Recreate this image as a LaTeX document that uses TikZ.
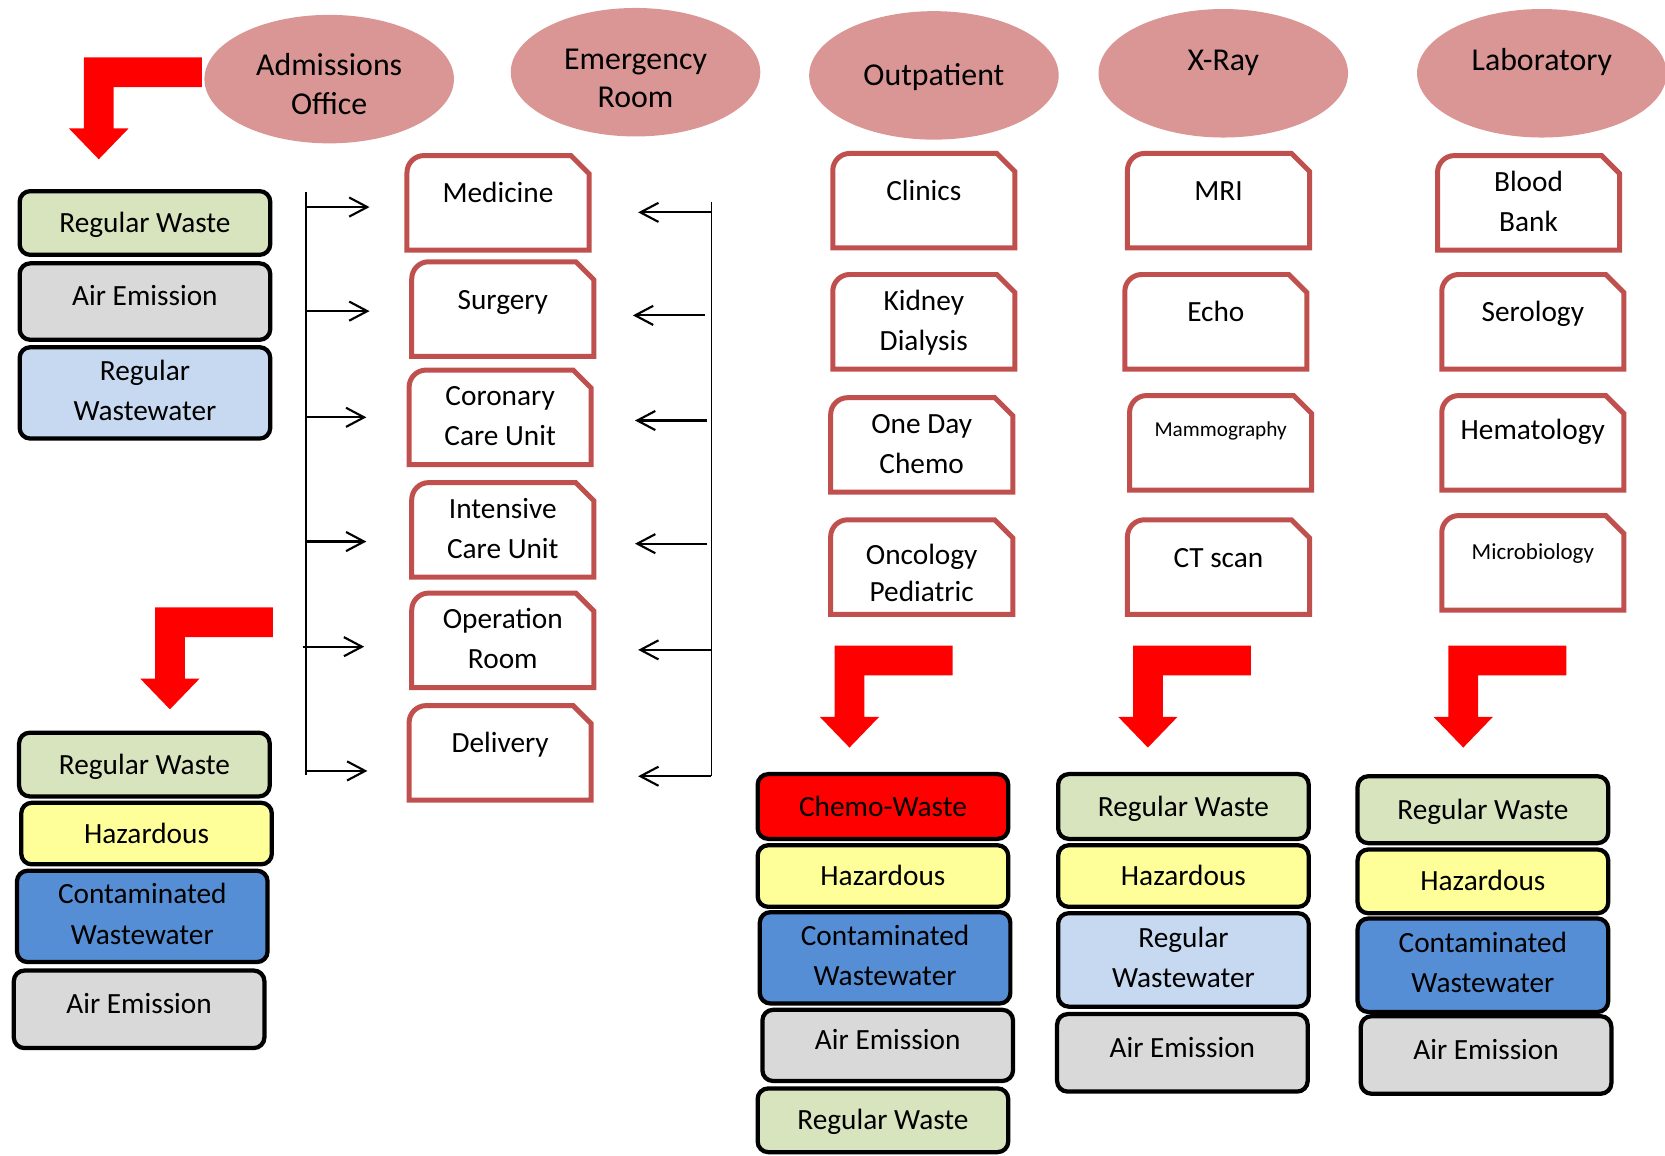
\documentclass[tikz,border=0pt]{standalone}
\usepackage{fontspec}
\setmainfont{Carlito}
\usepackage{tikz}
\usetikzlibrary{arrows.meta, positioning, shapes.geometric}
\definecolor{deptpink}{HTML}{D99694}
\definecolor{unitred}{HTML}{C0504D}
\definecolor{wastegreen}{HTML}{D7E4BD}
\definecolor{wastegray}{HTML}{D9D9D9}
\definecolor{wastelblue}{HTML}{C6D9F1}
\definecolor{wasteyellow}{HTML}{FFFF99}
\definecolor{wasteblue}{HTML}{558ED5}
\definecolor{chemored}{HTML}{FF0000}
\tikzset{
  dept/.style={ellipse, fill=deptpink, inner sep=0pt, minimum width=117.5pt,
    minimum height=60.5pt, align=center, font=\fontsize{15}{18}\selectfont},
  twodept/.style={text height=33pt, text depth=0pt},
  highdept/.style={text height=10pt, text depth=12.3pt},
  unit/.style={rectangle, inner sep=0pt, outer sep=0pt, minimum width=85.75pt,
    minimum height=44.5pt, align=center, font=\fontsize{13.8}{19}\selectfont},
  oneline/.style={text height=9pt, text depth=9pt},
  twoline/.style={text height=28pt, text depth=1pt},
  unitframe/.style={draw=unitred, line width=2.35pt},
  waste/.style={rectangle, draw=black, line width=2pt, rounded corners=5pt,
    minimum width=118pt, align=center, font=\fontsize{13.8}{19}\selectfont,
    text height=9.5pt, text depth=0.5pt},
  regwaste/.style={waste, fill=wastegreen, minimum height=30pt},
  hazwaste/.style={waste, fill=wasteyellow, minimum height=29pt},
  chemowaste/.style={waste, fill=chemored, minimum height=30.5pt},
  airwaste/.style={waste, fill=wastegray, minimum height=36.5pt, text height=9pt, text depth=5pt},
  cleanwater/.style={waste, fill=wastelblue, minimum height=43pt, text height=28pt, text depth=2pt},
  dirtywater/.style={waste, fill=wasteblue, minimum height=43pt, text height=28pt, text depth=2pt},
  arrowline/.style={-{Straight Barb[length=8.5pt, width=9pt]}, line width=1pt},
  feedline/.style={line width=0.75pt},
  bentarrow/.pic={
    \fill[chemored] (0,0) -- (111,0) -- (111,28) -- (28,28) -- (28,67) -- (42,67)
      -- (14,96) -- (-14,67) -- (0,67) -- cycle;
  },
}

\begin{document}
\begin{tikzpicture}[x=0.5pt, y=-0.5pt]
  \useasboundingbox (0,0) rectangle (1568,1088);

  \node[dept, twodept] (admissions) at (310,74.5) {Admissions\\Office};
  \node[dept, twodept] (emergency) at (598.5,68) {Emergency\\Room};
  \node[dept, text height=10pt, text depth=0.3pt] (outpatient) at (879.5,71) {Outpatient};
  \node[dept, highdept] (xray) at (1152,69) {X-Ray};
  \node[dept, highdept] (laboratory) at (1452,69) {Laboratory};

  \node[unit, oneline] (medicine) at (469,191) {Medicine};
  \node[unit, oneline] (surgery) at (473.5,291) {Surgery};
  \node[unit, twoline] (coronary) at (471,393) {Coronary\\Care Unit};
  \node[unit, twoline] (intensive) at (473.5,499) {Intensive\\Care Unit};
  \node[unit, twoline] (operation) at (473.5,603) {Operation\\Room};
  \node[unit, oneline] (delivery) at (471,709) {Delivery};

  \node[unit, oneline] (clinics) at (870,189) {Clinics};
  \node[unit, twoline] (dialysis) at (870,303) {Kidney\\Dialysis};
  \node[unit, twoline] (chemo) at (868,419) {One Day\\Chemo};
  \node[unit, text height=32pt, text depth=0pt, font=\fontsize{13.8}{17}\selectfont] (oncology) at (868,534) {Oncology\\Pediatric};

  \node[unit, oneline] (mri) at (1147.5,189) {MRI};
  \node[unit, oneline] (echo) at (1145,303) {Echo};
  \node[unit, text height=9pt, text depth=14.5pt, font=\fontsize{10}{12}\selectfont] (mammo) at (1149.5,417) {Mammography};
  \node[unit, oneline] (ctscan) at (1147.5,534) {CT scan};

  \node[unit, twoline] (blood) at (1439.5,191) {Blood\\Bank};
  \node[unit, oneline] (serology) at (1443.5,303) {Serology};
  \node[unit, text height=9pt, text depth=12pt] (hematology) at (1443.5,417) {Hematology};
  \node[unit, text height=9pt, text depth=12pt, font=\fontsize{10.8}{13}\selectfont] (microbio) at (1443.5,530) {Microbiology};

  \foreach \u in {medicine,surgery,coronary,intensive,operation,delivery,clinics,dialysis,chemo,oncology,mri,echo,mammo,ctscan,blood,serology,hematology,microbio}
    \draw[unitframe] (\u.west) [rounded corners=8pt] -- (\u.north west) -- (\u.north) [sharp corners]
      -- ([xshift=-8.5pt]\u.north east) -- ([yshift=-8.5pt]\u.north east) -- (\u.south east) -- (\u.south west) -- cycle;

  \node[regwaste] (rwTop) at (136.5,210) {Regular Waste};
  \node[airwaste, minimum height=36pt, below=2pt of rwTop] (airTop) {Air Emission};
  \node[cleanwater, below=1.5pt of airTop] (rwwTop) {Regular\\Wastewater};

  \node[regwaste] (rwLow) at (136,720) {Regular Waste};
  \node[hazwaste, below=1pt of rwLow, xshift=1pt] (hazLow) {Hazardous};
  \node[dirtywater, below=1pt of hazLow, xshift=-2pt] (cwwLow) {Contaminated\\Wastewater};
  \node[airwaste, below=2pt of cwwLow, xshift=-1.5pt] (airLow) {Air Emission};

  \node[chemowaste] (chemoW) at (831.5,759.5) {Chemo-Waste};
  \node[hazwaste, below=1pt of chemoW] (hazOut) {Hazardous};
  \node[dirtywater, below=0.5pt of hazOut, xshift=1pt] (cwwOut) {Contaminated\\Wastewater};
  \node[airwaste, minimum height=33.5pt, below=1pt of cwwOut, xshift=1.25pt] (airOut) {Air Emission};
  \node[regwaste, below=1.5pt of airOut, xshift=-2.25pt] (rwOut) {Regular Waste};

  \node[regwaste, minimum height=30.5pt] (rwXray) at (1114.5,759.5) {Regular Waste};
  \node[hazwaste, below=1pt of rwXray] (hazXray) {Hazardous};
  \node[cleanwater, minimum height=44pt, below=1pt of hazXray] (rwwXray) {Regular\\Wastewater};
  \node[airwaste, below=1.5pt of rwwXray, xshift=-0.5pt] (airXray) {Air Emission};

  \node[regwaste, minimum height=31.5pt] (rwLab) at (1396.5,762.5) {Regular Waste};
  \node[hazwaste, minimum height=30pt, below=1pt of rwLab] (hazLab) {Hazardous};
  \node[dirtywater, minimum height=44pt, below=0.5pt of hazLab] (cwwLab) {Contaminated\\Wastewater};
  \node[airwaste, below=0pt of cwwLab, xshift=1.5pt] (airLab) {Air Emission};

  \pic at (79,54) {bentarrow};
  \pic at (146,572) {bentarrow};
  \pic at (786,608) {bentarrow};
  \pic at (1067,608) {bentarrow};
  \pic at (1364,608) {bentarrow};

  \coordinate (ltop) at (288,181);
  \coordinate (lbot) at (288,730);
  \coordinate (rtop) at (670,190);
  \coordinate (rbot) at (670,731);
  \draw[feedline] (ltop) -- (lbot);
  \draw[feedline] (rtop) -- (rbot);

  \foreach \y/\xa/\xb [count=\i] in {195/289/348, 293/289/348, 393/288/345, 510/288/345, 609/285/343, 726/288/346} {
    \coordinate (la\i) at (\xa,\y);
    \coordinate (lb\i) at (\xb,\y);
    \draw[arrowline] (la\i) -- (lb\i);
  }
  \foreach \y/\xa/\xb [count=\i] in {200/670/601, 297/664/596, 396/666/598, 512/666/598, 612/670/601, 731/670/601} {
    \coordinate (ra\i) at (\xa,\y);
    \coordinate (rb\i) at (\xb,\y);
    \draw[arrowline] (ra\i) -- (rb\i);
  }
\end{tikzpicture}
\end{document}
